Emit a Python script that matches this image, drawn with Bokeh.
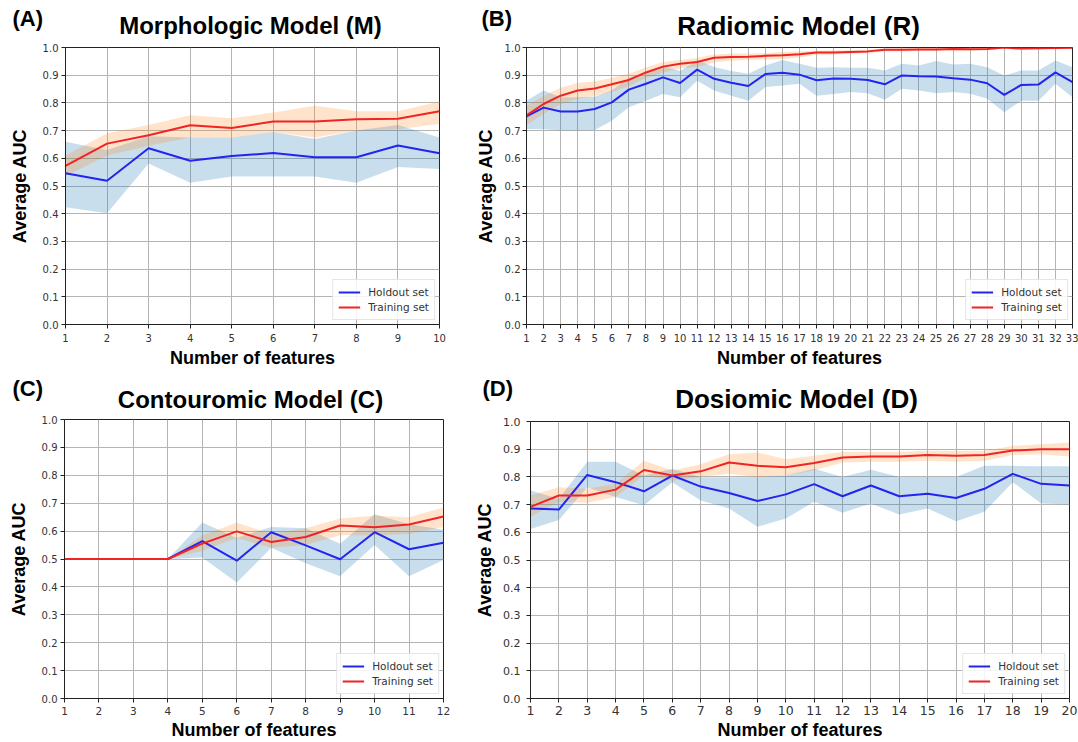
from bokeh.plotting import figure
from bokeh.models import (Range1d, FixedTicker, PrintfTickFormatter,
                          Legend, LegendItem)
from bokeh.core.properties import value
from bokeh.layouts import row, column
from bokeh.embed import file_html
from bokeh.resources import INLINE

# ---------------- Morphologic model (M) ----------------
m_features = list(range(1, 11))
m_holdout = [0.546, 0.519, 0.636, 0.591, 0.608, 0.619, 0.604, 0.604, 0.646, 0.618]
m_holdout_lo = [0.423, 0.402, 0.581, 0.512, 0.534, 0.534, 0.534, 0.512, 0.569, 0.561]
m_holdout_hi = [0.660, 0.630, 0.680, 0.675, 0.675, 0.695, 0.670, 0.700, 0.720, 0.675]
m_train = [0.573, 0.653, 0.683, 0.719, 0.709, 0.733, 0.733, 0.741, 0.743, 0.770]
m_train_lo = [0.535, 0.610, 0.645, 0.675, 0.675, 0.695, 0.675, 0.700, 0.705, 0.725]
m_train_hi = [0.610, 0.690, 0.720, 0.755, 0.745, 0.765, 0.790, 0.770, 0.770, 0.805]

# ---------------- Radiomic model (R) ----------------
r_features = list(range(1, 34))
r_holdout = [0.751, 0.783, 0.769, 0.769, 0.778, 0.802, 0.848, 0.869, 0.892, 0.872,
             0.920, 0.887, 0.873, 0.861, 0.904, 0.909, 0.902, 0.882, 0.888, 0.887,
             0.883, 0.867, 0.899, 0.896, 0.895, 0.889, 0.884, 0.871, 0.829, 0.865,
             0.866, 0.910, 0.875]
r_holdout_lo = [0.706, 0.705, 0.700, 0.700, 0.702, 0.736, 0.784, 0.808, 0.832, 0.820,
                0.880, 0.845, 0.826, 0.808, 0.857, 0.863, 0.869, 0.826, 0.832, 0.839,
                0.835, 0.811, 0.851, 0.845, 0.835, 0.839, 0.833, 0.815, 0.766, 0.808,
                0.808, 0.869, 0.820]
r_holdout_hi = [0.808, 0.845, 0.820, 0.820, 0.822, 0.845, 0.890, 0.910, 0.932, 0.915,
                0.955, 0.930, 0.915, 0.905, 0.935, 0.955, 0.941, 0.927, 0.929, 0.927,
                0.927, 0.917, 0.941, 0.935, 0.951, 0.939, 0.941, 0.929, 0.899, 0.917,
                0.917, 0.953, 0.929]
r_train = [0.755, 0.796, 0.826, 0.845, 0.852, 0.867, 0.883, 0.910, 0.931, 0.941,
           0.948, 0.963, 0.966, 0.967, 0.970, 0.972, 0.976, 0.982, 0.982, 0.984,
           0.986, 0.992, 0.992, 0.993, 0.993, 0.995, 0.994, 0.995, 1.000, 0.996,
           0.997, 0.998, 0.999]
r_train_lo = [0.720, 0.760, 0.795, 0.815, 0.825, 0.840, 0.860, 0.890, 0.910, 0.925,
              0.930, 0.947, 0.952, 0.955, 0.957, 0.958, 0.964, 0.974, 0.974, 0.977,
              0.979, 0.986, 0.986, 0.987, 0.987, 0.990, 0.989, 0.990, 0.996, 0.991,
              0.993, 0.995, 0.996]
r_train_hi = [0.790, 0.825, 0.855, 0.872, 0.878, 0.890, 0.905, 0.928, 0.948, 0.955,
              0.962, 0.975, 0.978, 0.978, 0.980, 0.984, 0.986, 0.989, 0.989, 0.990,
              0.992, 0.996, 0.996, 0.997, 0.997, 0.998, 0.998, 0.998, 1.000, 0.999,
              1.000, 1.000, 1.000]

# ---------------- Contouromic model (C) ----------------
c_features = list(range(1, 13))
c_holdout = [0.500, 0.500, 0.500, 0.500, 0.564, 0.494, 0.596, 0.549, 0.499, 0.596, 0.535, 0.558]
c_holdout_lo = [0.500, 0.500, 0.500, 0.500, 0.505, 0.416, 0.540, 0.485, 0.438, 0.550, 0.438, 0.496]
c_holdout_hi = [0.500, 0.500, 0.500, 0.500, 0.631, 0.575, 0.615, 0.610, 0.555, 0.660, 0.625, 0.605]
c_train = [0.500, 0.500, 0.500, 0.500, 0.555, 0.599, 0.561, 0.579, 0.620, 0.614, 0.624, 0.652]
c_train_lo = [0.500, 0.500, 0.500, 0.500, 0.530, 0.575, 0.540, 0.550, 0.585, 0.585, 0.590, 0.615]
c_train_hi = [0.500, 0.500, 0.500, 0.500, 0.585, 0.630, 0.590, 0.610, 0.645, 0.655, 0.650, 0.685]

# ---------------- Dosiomic model (D) ----------------
d_features = list(range(1, 21))
d_holdout = [0.686, 0.682, 0.807, 0.781, 0.748, 0.805, 0.765, 0.742, 0.713, 0.737,
             0.774, 0.730, 0.769, 0.730, 0.739, 0.724, 0.757, 0.811, 0.775, 0.769]
d_holdout_lo = [0.612, 0.644, 0.763, 0.727, 0.698, 0.781, 0.715, 0.686, 0.620, 0.650,
                0.710, 0.671, 0.704, 0.664, 0.686, 0.640, 0.674, 0.781, 0.704, 0.700]
d_holdout_hi = [0.751, 0.721, 0.855, 0.855, 0.805, 0.829, 0.799, 0.799, 0.800, 0.805,
                0.829, 0.800, 0.826, 0.800, 0.800, 0.800, 0.840, 0.840, 0.838, 0.838]
d_train = [0.692, 0.733, 0.733, 0.754, 0.825, 0.805, 0.820, 0.852, 0.840, 0.835,
           0.850, 0.870, 0.874, 0.874, 0.879, 0.876, 0.879, 0.895, 0.900, 0.900]
d_train_lo = [0.656, 0.710, 0.707, 0.727, 0.805, 0.787, 0.800, 0.811, 0.800, 0.805,
              0.823, 0.852, 0.855, 0.855, 0.858, 0.855, 0.858, 0.879, 0.882, 0.874]
d_train_hi = [0.733, 0.763, 0.757, 0.775, 0.858, 0.823, 0.846, 0.882, 0.888, 0.864,
              0.876, 0.890, 0.890, 0.890, 0.894, 0.894, 0.894, 0.912, 0.918, 0.924]

y_ticks = [round(0.1 * i, 1) for i in range(11)]

HOLDOUT_COLOR = "#2424f0"
TRAIN_COLOR = "#f02424"
HOLDOUT_BAND = "#1f77b4"
TRAIN_BAND = "#ff7f0e"
TITLE_FONT = "Liberation Sans"
TICK_FONT = "DejaVu Sans"


def make_header(width, height, tag, title, tag_x, tag_y, title_x, title_y,
                title_size="24px"):
    """Strip above a panel holding its letter tag and its heading."""
    h = figure(width=width, height=height, output_backend="svg", toolbar_location=None,
               x_range=Range1d(0, width), y_range=Range1d(0, height),
               x_axis_type=None, y_axis_type=None, frame_align=False,
               min_border_left=0, min_border_right=0, min_border_top=0, min_border_bottom=0)
    h.title.text = ""
    h.grid.visible = False
    h.outline_line_color = None
    h.background_fill_color = "white"
    h.border_fill_color = "white"
    h.text(x=[tag_x], y=[tag_y], text=[tag], text_align="left", text_baseline="middle",
           text_font=value(TITLE_FONT), text_font_style="bold", text_font_size="22px",
           text_color="black")
    h.text(x=[title_x], y=[title_y], text=[title], text_align="center", text_baseline="middle",
           text_font=value(TITLE_FONT), text_font_style="bold", text_font_size=title_size,
           text_color="black")
    return h


def make_panel(feats, hold, hold_lo, hold_hi, train, train_lo, train_hi,
               width, height, left, right, top, bottom,
               xtick_size="10px", ytick_size="10px", ylabel_standoff=10,
               ylabel_major_standoff=3, xlabel_major_standoff=4, xlabel_standoff=3):
    p = figure(width=width, height=height, output_backend="svg", toolbar_location=None,
               x_range=Range1d(feats[0], feats[-1]), y_range=Range1d(0, 1),
               frame_align=False,
               min_border_left=left, min_border_right=right,
               min_border_top=top, min_border_bottom=bottom)
    p.title.text = ""
    p.background_fill_color = "white"
    p.border_fill_color = "white"
    p.outline_line_color = "#222222"
    p.outline_line_width = 1

    # uncertainty bands, then the mean curves
    p.varea(x=feats, y1=hold_lo, y2=hold_hi, fill_color=HOLDOUT_BAND, fill_alpha=0.24)
    p.varea(x=feats, y1=train_lo, y2=train_hi, fill_color=TRAIN_BAND, fill_alpha=0.22)
    hl = p.line(feats, hold, line_color=HOLDOUT_COLOR, line_width=2)
    tl = p.line(feats, train, line_color=TRAIN_COLOR, line_width=2)

    # axes
    p.xaxis.ticker = FixedTicker(ticks=list(feats))
    p.yaxis.ticker = FixedTicker(ticks=y_ticks)
    p.yaxis.formatter = PrintfTickFormatter(format="%.1f")
    for ax in (p.xaxis[0], p.yaxis[0]):
        ax.axis_line_color = "#222222"
        ax.major_tick_line_color = "#222222"
        ax.major_tick_out = 4
        ax.major_tick_in = 0
        ax.minor_tick_out = 0
        ax.minor_tick_in = 0
        ax.major_label_text_font = TICK_FONT
        ax.major_label_text_color = "#333333"
        ax.axis_label_text_font = TITLE_FONT
        ax.axis_label_text_font_style = "bold"
        ax.axis_label_text_font_size = "18px"
        ax.axis_label_text_color = "black"
    p.xaxis.major_label_text_font_size = xtick_size
    p.yaxis.major_label_text_font_size = ytick_size
    p.xaxis.major_label_standoff = xlabel_major_standoff
    p.xaxis.axis_label_standoff = xlabel_standoff
    p.yaxis.major_label_standoff = ylabel_major_standoff
    p.yaxis.axis_label_standoff = ylabel_standoff
    p.xaxis.axis_label = "Number of features"
    p.yaxis.axis_label = "Average AUC"

    # grid
    p.xgrid.grid_line_color = "#b4b4b4"
    p.ygrid.grid_line_color = "#b4b4b4"
    p.xgrid.grid_line_width = 1
    p.ygrid.grid_line_width = 1

    # legend
    legend = Legend(items=[LegendItem(label="Holdout set", renderers=[hl]),
                           LegendItem(label="Training set", renderers=[tl])],
                    location="bottom_right")
    legend.label_text_font = TICK_FONT
    legend.label_text_font_size = "10.5px"
    legend.label_text_color = "#333333"
    legend.glyph_width = 22
    legend.glyph_height = 14
    legend.label_height = 14
    legend.label_standoff = 8
    legend.spacing = 1
    legend.padding = 5
    legend.margin = 4
    legend.border_line_color = "#cccccc"
    legend.border_line_width = 1
    legend.background_fill_alpha = 0.85
    p.add_layout(legend)
    return p


TOP_H = 41      # header strip, upper row
BOTTOM_H = 43   # header strip, lower row

ha = make_header(472, TOP_H, "(A)", "Morphologic Model (M)",
                 tag_x=12, tag_y=23, title_x=250, title_y=16)
pa = make_panel(m_features, m_holdout, m_holdout_lo, m_holdout_hi,
                m_train, m_train_lo, m_train_hi,
                width=472, height=370 - TOP_H, left=65, right=33, top=6, bottom=45,
                xlabel_major_standoff=5, xlabel_standoff=3)

hb = make_header(606, TOP_H, "(B)", "Radiomic Model (R)",
                 tag_x=9, tag_y=23, title_x=326, title_y=16, title_size="26px")
pb = make_panel(r_features, r_holdout, r_holdout_lo, r_holdout_hi,
                r_train, r_train_lo, r_train_hi,
                width=606, height=370 - TOP_H, left=50, right=6, top=6, bottom=46,
                ylabel_standoff=6, ylabel_major_standoff=2,
                xlabel_major_standoff=5, xlabel_standoff=3)

hc = make_header(472, BOTTOM_H, "(C)", "Contouromic Model (C)",
                 tag_x=12, tag_y=25, title_x=250, title_y=14)
pc = make_panel(c_features, c_holdout, c_holdout_lo, c_holdout_hi,
                c_train, c_train_lo, c_train_hi,
                width=472, height=372 - BOTTOM_H, left=64, right=29, top=6, bottom=42,
                xtick_size="10.5px", xlabel_major_standoff=4, xlabel_standoff=2)

hd = make_header(606, BOTTOM_H, "(D)", "Dosiomic Model (D)",
                 tag_x=10, tag_y=25, title_x=324, title_y=15, title_size="26px")
pd_ = make_panel(d_features, d_holdout, d_holdout_lo, d_holdout_hi,
                 d_train, d_train_lo, d_train_hi,
                 width=606, height=372 - BOTTOM_H, left=54, right=9, top=8, bottom=43,
                 xtick_size="12.5px", ytick_size="11px", ylabel_standoff=5,
                 ylabel_major_standoff=6, xlabel_major_standoff=3, xlabel_standoff=2)

layout = column(row(column(ha, pa), column(hb, pb)),
                row(column(hc, pc), column(hd, pd_)))

with open("out.html", "w") as f:
    f.write(file_html(layout, INLINE))
